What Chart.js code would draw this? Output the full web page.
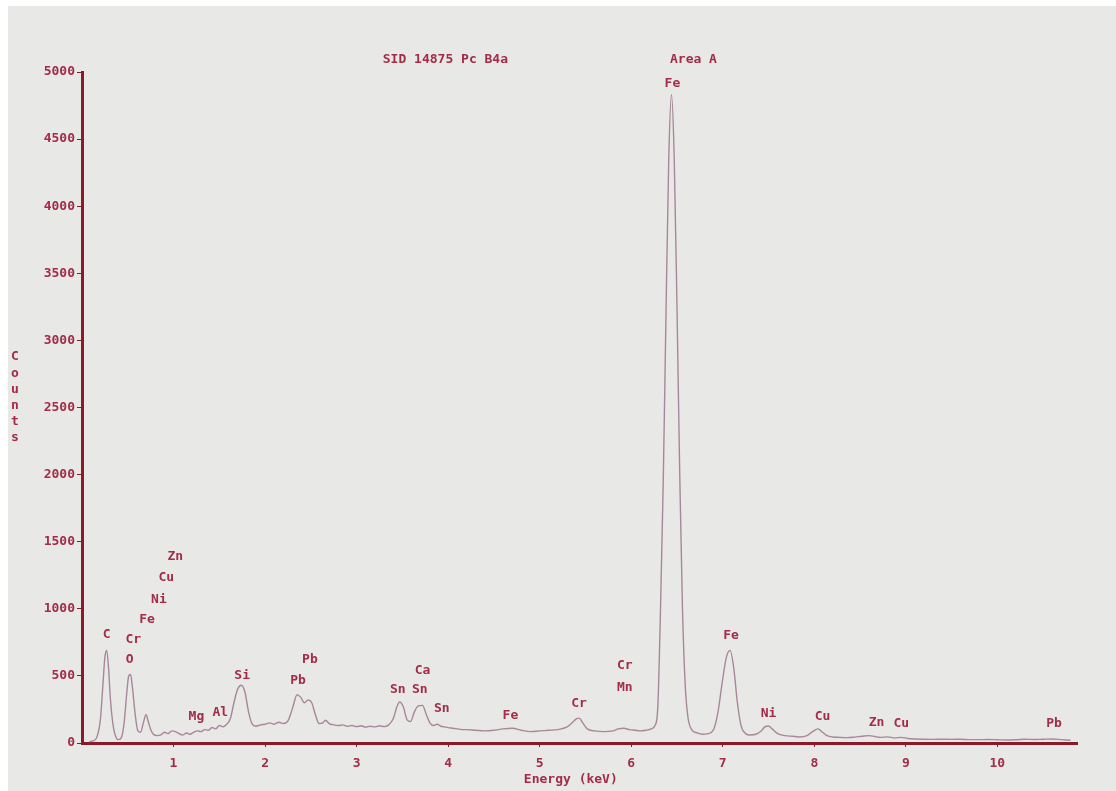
<!DOCTYPE html>
<html>
<head>
<meta charset="utf-8">
<script src="https://cdn.jsdelivr.net/npm/chart.js@4.4.1/dist/chart.umd.min.js"></script>
<style>
  body { margin: 0; background: #fff; }
  #wrap { position: absolute; left: 8px; top: 6px; width: 1108px; height: 785px; background: #e8e8e6; }
</style>
</head>
<body>
<div id="wrap"><canvas id="spectrum" width="1108" height="785"></canvas></div>
<script>
// spectrum, ten points per row
const energyKeV = [
  0.08, 0.12, 0.16, 0.20, 0.23, 0.25, 0.27, 0.29, 0.31, 0.34,
  0.37, 0.40, 0.43, 0.46, 0.49, 0.51, 0.53, 0.55, 0.58, 0.61,
  0.64, 0.67, 0.70, 0.72, 0.75, 0.78, 0.82, 0.86, 0.90, 0.94,
  0.98, 1.02, 1.06, 1.10, 1.14, 1.18, 1.22, 1.26, 1.30, 1.34,
  1.38, 1.42, 1.46, 1.50, 1.54, 1.58, 1.62, 1.66, 1.70, 1.74,
  1.78, 1.82, 1.86, 1.90, 1.95, 2.00, 2.05, 2.10, 2.15, 2.20,
  2.25, 2.30, 2.35, 2.39, 2.43, 2.47, 2.51, 2.55, 2.59, 2.63,
  2.66, 2.70, 2.75, 2.80, 2.85, 2.90, 2.95, 3.00, 3.05, 3.10,
  3.15, 3.20, 3.25, 3.30, 3.35, 3.40, 3.44, 3.47, 3.51, 3.55,
  3.59, 3.63, 3.67, 3.72, 3.76, 3.80, 3.84, 3.88, 3.92, 3.96,
  4.00, 4.05, 4.10, 4.15, 4.20, 4.30, 4.40, 4.50, 4.60, 4.70,
  4.80, 4.90, 5.00, 5.10, 5.20, 5.30, 5.36, 5.40, 5.43, 5.47,
  5.52, 5.60, 5.70, 5.80, 5.86, 5.92, 5.98, 6.04, 6.10, 6.16,
  6.22, 6.26, 6.29, 6.32, 6.35, 6.38, 6.41, 6.44, 6.47, 6.50,
  6.53, 6.56, 6.59, 6.62, 6.66, 6.72, 6.78, 6.84, 6.90, 6.95,
  7.00, 7.04, 7.08, 7.12, 7.16, 7.20, 7.25, 7.30, 7.36, 7.42,
  7.46, 7.50, 7.54, 7.60, 7.68, 7.76, 7.84, 7.92, 7.98, 8.04,
  8.09, 8.14, 8.20, 8.28, 8.36, 8.44, 8.52, 8.60, 8.66, 8.72,
  8.80, 8.88, 8.95, 9.02, 9.10, 9.20, 9.30, 9.40, 9.50, 9.60,
  9.70, 9.80, 9.90, 10.00, 10.10, 10.20, 10.30, 10.40, 10.50, 10.60,
  10.70, 10.80
];
const counts = [
  10, 15, 40, 170, 450, 640, 690, 560, 330, 130,
  45, 25, 40, 150, 380, 500, 510, 420, 220, 90,
  80, 150, 210, 170, 100, 65, 55, 60, 80, 70,
  90, 85, 70, 60, 75, 65, 80, 90, 85, 100,
  95, 115, 105, 130, 120, 140, 180, 300, 400, 430,
  380, 230, 140, 125, 135, 140, 150, 140, 155, 145,
  165, 260, 360, 340, 300, 320, 300, 210, 145, 150,
  170, 145, 135, 130, 135, 125, 130, 122, 128, 118,
  125, 120, 128, 122, 135, 180, 270, 305, 270, 175,
  160, 230, 275, 280, 215, 150, 130, 140, 125, 120,
  115, 110, 105, 100, 100, 95, 90, 95, 105, 110,
  95, 85, 90, 95, 100, 120, 155, 180, 185, 150,
  105, 90, 85, 90, 105, 110, 100, 95, 90, 95,
  105, 130, 260, 1000, 1950, 3200, 4350, 4830, 4350, 3250,
  2000, 1000, 430, 190, 100, 75, 65, 70, 100, 240,
  480, 640, 690, 560, 300, 130, 70, 60, 65, 90,
  120, 127, 105, 70, 55, 50, 45, 55, 85, 105,
  80, 55, 45, 42, 40, 44, 50, 55, 48, 42,
  46, 38, 42, 34, 30, 28, 27, 28, 27, 28,
  25, 25, 26, 24, 22, 24, 28, 26, 28, 30,
  25, 20
];

const yTicks = [0, 500, 1000, 1500, 2000, 2500, 3000, 3500, 4000, 4500, 5000];
const xTicks = [1, 2, 3, 4, 5, 6, 7, 8, 9, 10];

// peak labels and header texts, placed in data coordinates
const labelText   = ['SID 14875 Pc B4a','Area A','C','Cr','O','Fe','Ni','Cu','Zn','Mg','Al','Si','Pb','Pb','Sn','Sn','Ca','Sn','Fe','Cr','Cr','Mn','Fe','Fe','Ni','Cu','Zn','Cu','Pb'];
const labelKeV    = [3.97,6.68,0.27,0.56,0.52,0.71,0.84,0.92,1.02,1.25,1.51,1.75,2.36,2.49,3.45,3.69,3.72,3.93,4.68,5.43,5.93,5.93,6.45,7.09,7.50,8.09,8.68,8.95,10.62];
const labelCounts = [5090,5090,805,768,618,917,1066,1230,1386,194,224,499,462,618,395,395,537,253,201,291,574,410,4911,797,216,194,149,142,142];

const textColor = '#a32c48';
const axisColor = '#8a1a2a';
const font = {family: '"DejaVu Sans Mono", "Liberation Mono", monospace', size: 13, weight: 'bold'};

const labelPlugin = {
  id: 'peakLabels',
  afterDraw(chart) {
    const ctx = chart.ctx;
    const x = chart.scales.x, y = chart.scales.y;
    ctx.save();
    ctx.fillStyle = textColor;
    ctx.font = 'bold 13px "DejaVu Sans Mono", monospace';
    ctx.textAlign = 'center';
    ctx.textBaseline = 'middle';
    labelText.forEach((t, i) => {
      ctx.fillText(t, x.getPixelForValue(labelKeV[i]), y.getPixelForValue(labelCounts[i]));
    });
    // upright stacked y title, and the x title
    'Counts'.split('').forEach((c, i) => ctx.fillText(c, 7, 351 + i * 16.2));
    ctx.fillText('Energy (keV)', x.getPixelForValue(5.34), 774);
    ctx.restore();
  }
};

new Chart(document.getElementById('spectrum'), {
  type: 'line',
  data: {
    datasets: [{
      data: energyKeV.map((e, i) => ({x: e, y: counts[i]})),
      borderColor: '#a8879a',
      borderWidth: 1.4,
      pointRadius: 0,
      tension: 0.3,
      cubicInterpolationMode: 'monotone'
    }]
  },
  options: {
    responsive: false,
    animation: false,
    layout: {padding: {top: 66, right: 39, left: 0, bottom: 0}},
    plugins: {legend: {display: false}, tooltip: {enabled: false}},
    scales: {
      x: {
        type: 'linear',
        min: 0,
        max: 10.87,
        afterBuildTicks(s) { s.ticks = xTicks.map(v => ({value: v})); },
        afterFit(s) { s.height = 48; },
        grid: {display: true, drawOnChartArea: false, drawTicks: true, tickLength: 4, color: axisColor, lineWidth: 1},
        border: {display: true, color: axisColor, width: 3},
        ticks: {color: textColor, font: font, padding: 9, maxRotation: 0, autoSkip: false, callback: v => String(v)}
      },
      y: {
        min: 0,
        max: 5000,
        afterBuildTicks(s) { s.ticks = yTicks.map(v => ({value: v})); },
        afterFit(s) { s.width = 74; },
        grid: {display: true, drawOnChartArea: false, drawTicks: true, tickLength: 5, color: axisColor, lineWidth: 1},
        border: {display: true, color: axisColor, width: 3},
        ticks: {color: textColor, font: font, padding: 2, callback: v => String(v)}
      }
    }
  },
  plugins: [labelPlugin]
});
</script>
</body>
</html>
